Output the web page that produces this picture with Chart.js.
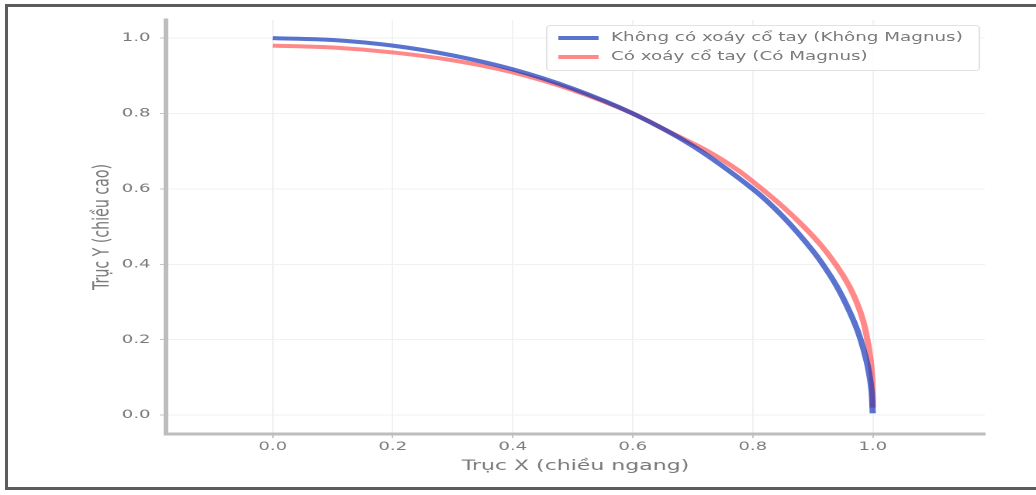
<!DOCTYPE html>
<html>
<head>
<meta charset="utf-8">
<script src="https://cdn.jsdelivr.net/npm/chart.js@4"></script>
<style>
  html, body { margin: 0; padding: 0; background: #fff; }
  #page { position: relative; width: 1036px; height: 495px; overflow: hidden; }
  #frame { position: absolute; left: 5px; top: 4px; width: 1100px; height: 486px;
           border: 3px solid #5c5c5c; box-sizing: border-box; }
  /* the reference picture is stretched sideways, so the chart is drawn narrow and widened */
  #wrap { position: absolute; left: 0; top: 0; width: 668px; height: 495px;
          transform: scaleX(1.5509); transform-origin: 0 0; }
  #c { position: absolute; left: 0; top: 0; }
  #legend { position: absolute; left: 352px; top: 25px; width: 278px; height: 44px;
            border: 1px solid #e2e2e2; border-radius: 3px; background: rgba(255,255,255,0.85);
            font-family: "DejaVu Sans", sans-serif; font-size: 11.8px; color: #7a7a7a; }
  #legend .row { position: absolute; left: 7px; height: 18px; line-height: 18px; white-space: nowrap; }
  #legend .sw { display: inline-block; width: 26px; height: 4px; vertical-align: middle; margin-right: 8px; }
</style>
</head>
<body>
<div id="page">
  <div id="frame"></div>
  <div id="wrap">
    <canvas id="c"></canvas>
    <div id="legend"></div>
  </div>
</div>
<script>
// series labels
const seriesLabels = ['Không có xoáy cổ tay (Không Magnus)', 'Có xoáy cổ tay (Có Magnus)'];

// blue curve (no Magnus)
const noMagnusX = [0, 0.1, 0.2, 0.3, 0.4, 0.5, 0.6, 0.7, 0.8, 0.85, 0.9, 0.93, 0.95, 0.97, 0.98, 0.99, 0.995, 0.998, 1.0];
const noMagnusY = [1.0, 0.995, 0.98, 0.954, 0.917, 0.866, 0.8, 0.714, 0.6, 0.527, 0.436, 0.368, 0.312, 0.243, 0.199, 0.141, 0.1, 0.063, 0.005];

// red curve (with Magnus)
const magnusX = [0, 0.1, 0.2, 0.3, 0.4, 0.5, 0.6, 0.66, 0.725, 0.775, 0.815, 0.852, 0.885, 0.914, 0.938, 0.958, 0.973, 0.984, 0.991, 0.996, 0.999, 1.0, 1.0];
const magnusY = [0.98, 0.975, 0.962, 0.941, 0.909, 0.862, 0.8, 0.752, 0.7, 0.65, 0.6, 0.55, 0.5, 0.45, 0.4, 0.35, 0.3, 0.25, 0.2, 0.15, 0.1, 0.05, 0.02];

// tick labels
const xTicks = [0.0, 0.2, 0.4, 0.6, 0.8, 1.0];
const yTicks = [0.0, 0.2, 0.4, 0.6, 0.8, 1.0];

const colors = ['rgba(20,55,185,0.7)', 'rgba(255,40,40,0.55)'];

const toPoints = (xs, ys) => xs.map((x, i) => ({ x, y: ys[i] }));

const tickFont = { family: 'DejaVu Sans', size: 11.6 };
const titleFont = { family: 'DejaVu Sans', size: 14.2 };

const canvas = document.getElementById('c');
canvas.style.width = '668px';
canvas.style.height = '495px';

new Chart(canvas, {
  type: 'scatter',
  data: {
    datasets: [
      { label: seriesLabels[0], data: toPoints(noMagnusX, noMagnusY), showLine: true,
        borderColor: colors[0], borderWidth: 4, pointRadius: 0, tension: 0.3, fill: false },
      { label: seriesLabels[1], data: toPoints(magnusX, magnusY), showLine: true,
        borderColor: colors[1], borderWidth: 4, pointRadius: 0, tension: 0.3, fill: false }
    ]
  },
  options: {
    responsive: false,
    animation: false,
    devicePixelRatio: 2,
    layout: { padding: { left: 57.9, right: 32.9, top: 20, bottom: 20 } },
    plugins: { legend: { display: false }, tooltip: { enabled: false } },
    scales: {
      x: {
        type: 'linear', min: -0.178, max: 1.187,
        afterBuildTicks: s => { s.ticks = xTicks.map(v => ({ value: v })); },
        afterFit: s => { s.height = 41; },
        ticks: { color: '#7a7a7a', font: tickFont, padding: 2, maxRotation: 0, callback: v => v.toFixed(1) },
        grid: { color: '#f1f1f1', tickColor: '#c4c4c4', tickLength: 4 },
        border: { color: '#bdbdbd', width: 3 },
        title: { display: true, text: 'Trục X (chiều ngang)', color: '#7a7a7a', font: titleFont, padding: 0 }
      },
      y: {
        type: 'linear', min: -0.05, max: 1.048,
        afterBuildTicks: s => { s.ticks = yTicks.map(v => ({ value: v })); },
        afterFit: s => { s.width = 49.1; },
        ticks: { color: '#7a7a7a', font: tickFont, padding: 6, callback: v => v.toFixed(1) },
        grid: { color: '#f1f1f1', tickColor: '#c4c4c4', tickLength: 4 },
        border: { color: '#bdbdbd', width: 3 },
        title: { display: true, text: 'Trục Y (chiều cao)', color: '#7a7a7a', font: titleFont, padding: 0 }
      }
    }
  }
});

// legend inside the plot, upper right
const legend = document.getElementById('legend');
seriesLabels.forEach((name, i) => {
  const row = document.createElement('div');
  row.className = 'row';
  row.style.top = (2 + i * 19) + 'px';
  row.innerHTML = '<span class="sw" style="background:' + colors[i] + '"></span>' + name;
  legend.appendChild(row);
});
</script>
</body>
</html>
